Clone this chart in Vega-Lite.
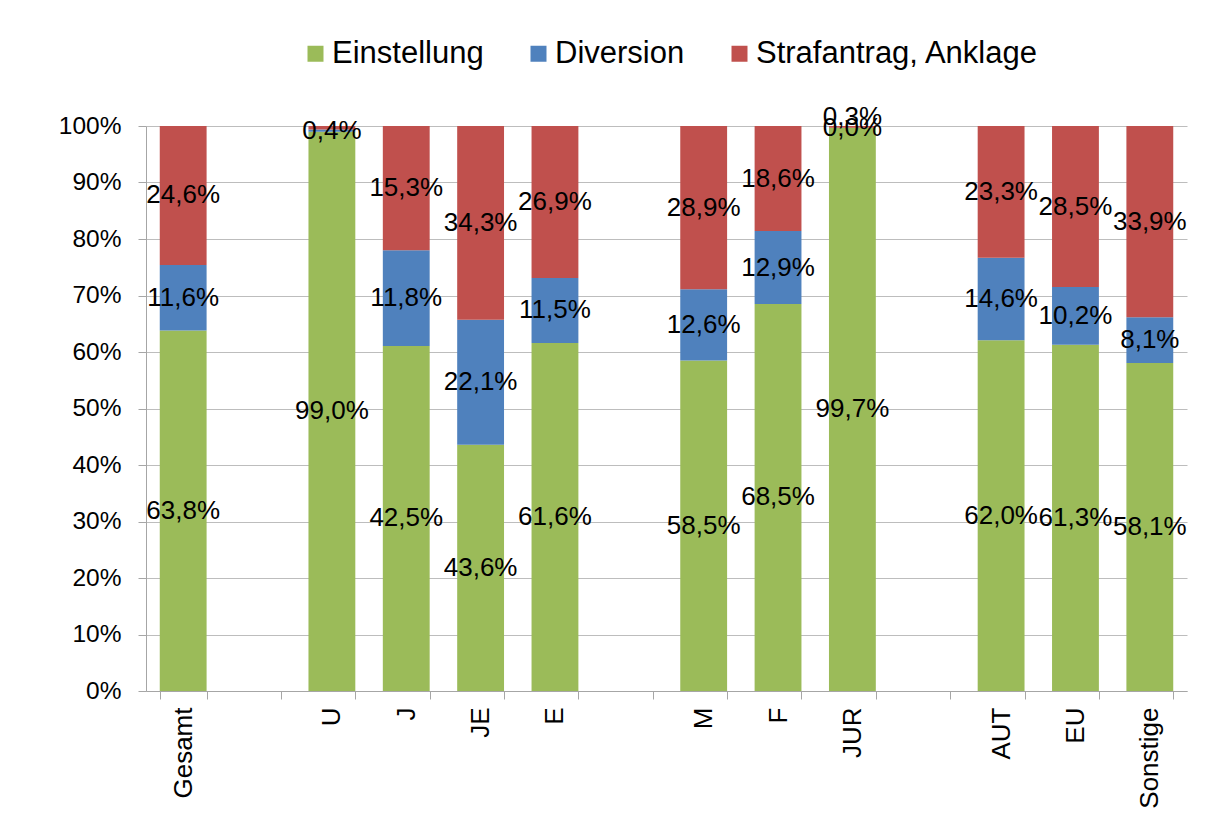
{
  "$schema": "https://vega.github.io/schema/vega-lite/v6.json",
  "width": 1041,
  "height": 565,
  "autosize": {"type": "none"},
  "padding": {"left": 146, "top": 126, "right": 25, "bottom": 144},
  "background": "white",
  "config": {
    "font": "Liberation Sans",
    "view": {"stroke": null},
    "locale": {"number": {"decimal": ",", "thousands": ".", "grouping": [3], "currency": ["", "%"]}}
  },
  "data": {
    "values": [
      {"cat": "Gesamt", "type": "Einstellung", "i": 1, "v": 63.8},
      {"cat": "Gesamt", "type": "Diversion", "i": 2, "v": 11.6},
      {"cat": "Gesamt", "type": "Strafantrag, Anklage", "i": 3, "v": 24.6},
      {"cat": "U", "type": "Einstellung", "i": 1, "v": 99.0},
      {"cat": "U", "type": "Diversion", "i": 2, "v": 0.4},
      {"cat": "U", "type": "Strafantrag, Anklage", "i": 3, "v": 0.6},
      {"cat": "J", "type": "Einstellung", "i": 1, "v": 42.5},
      {"cat": "J", "type": "Diversion", "i": 2, "v": 11.8},
      {"cat": "J", "type": "Strafantrag, Anklage", "i": 3, "v": 15.3},
      {"cat": "JE", "type": "Einstellung", "i": 1, "v": 43.6},
      {"cat": "JE", "type": "Diversion", "i": 2, "v": 22.1},
      {"cat": "JE", "type": "Strafantrag, Anklage", "i": 3, "v": 34.3},
      {"cat": "E", "type": "Einstellung", "i": 1, "v": 61.6},
      {"cat": "E", "type": "Diversion", "i": 2, "v": 11.5},
      {"cat": "E", "type": "Strafantrag, Anklage", "i": 3, "v": 26.9},
      {"cat": "M", "type": "Einstellung", "i": 1, "v": 58.5},
      {"cat": "M", "type": "Diversion", "i": 2, "v": 12.6},
      {"cat": "M", "type": "Strafantrag, Anklage", "i": 3, "v": 28.9},
      {"cat": "F", "type": "Einstellung", "i": 1, "v": 68.5},
      {"cat": "F", "type": "Diversion", "i": 2, "v": 12.9},
      {"cat": "F", "type": "Strafantrag, Anklage", "i": 3, "v": 18.6},
      {"cat": "JUR", "type": "Einstellung", "i": 1, "v": 99.7},
      {"cat": "JUR", "type": "Diversion", "i": 2, "v": 0.0},
      {"cat": "JUR", "type": "Strafantrag, Anklage", "i": 3, "v": 0.3},
      {"cat": "AUT", "type": "Einstellung", "i": 1, "v": 62.0},
      {"cat": "AUT", "type": "Diversion", "i": 2, "v": 14.6},
      {"cat": "AUT", "type": "Strafantrag, Anklage", "i": 3, "v": 23.3},
      {"cat": "EU", "type": "Einstellung", "i": 1, "v": 61.3},
      {"cat": "EU", "type": "Diversion", "i": 2, "v": 10.2},
      {"cat": "EU", "type": "Strafantrag, Anklage", "i": 3, "v": 28.5},
      {"cat": "Sonstige", "type": "Einstellung", "i": 1, "v": 58.1},
      {"cat": "Sonstige", "type": "Diversion", "i": 2, "v": 8.1},
      {"cat": "Sonstige", "type": "Strafantrag, Anklage", "i": 3, "v": 33.9}
    ]
  },
  "encoding": {
    "x": {
      "field": "cat",
      "type": "nominal",
      "title": null,
      "scale": {
        "domain": ["Gesamt", "_1", "U", "J", "JE", "E", "_2", "M", "F", "JUR", "_3", "AUT", "EU", "Sonstige"],
        "paddingInner": 0.37,
        "paddingOuter": 0.185
      },
      "axis": {
        "labelAngle": -90,
        "labelFontSize": 26,
        "labelColor": "black",
        "labelPadding": 8,
        "tickSize": 8,
        "tickBand": "extent",
        "tickColor": "#A6A6A6",
        "domainColor": "#A6A6A6",
        "grid": false,
        "labelExpr": "indexof(datum.label, '_') == 0 ? '' : datum.label"
      }
    }
  },
  "layer": [
    {
      "mark": {"type": "bar"},
      "encoding": {
        "y": {
          "field": "v",
          "type": "quantitative",
          "stack": "normalize",
          "title": null,
          "scale": {"domain": [0, 1], "nice": false},
          "axis": {
            "values": [0, 0.1, 0.2, 0.3, 0.4, 0.5, 0.6, 0.7, 0.8, 0.9, 1],
            "format": ".0%",
            "labelFontSize": 24.5,
            "labelColor": "black",
            "labelPadding": 17,
            "tickSize": 8,
            "tickColor": "#A6A6A6",
            "domainColor": "#A6A6A6",
            "gridColor": "#BDBDBD",
            "grid": true
          }
        },
        "color": {
          "field": "type",
          "type": "nominal",
          "scale": {
            "domain": ["Einstellung", "Diversion", "Strafantrag, Anklage"],
            "range": ["#9BBB59", "#4F81BD", "#C0504D"]
          },
          "legend": {
            "orient": "none",
            "legendX": 154,
            "legendY": -88,
            "direction": "horizontal",
            "title": null,
            "labelFontSize": 31,
            "labelColor": "black",
            "labelLimit": 0,
            "symbolType": "square",
            "symbolSize": 256,
            "symbolStrokeWidth": 0,
            "symbolOpacity": 1,
            "labelOffset": 1,
            "columnPadding": 39,
            "padding": 0
          }
        },
        "order": {"field": "i", "type": "quantitative", "sort": "ascending"}
      }
    },
    {
      "mark": {"type": "text", "fontSize": 26, "color": "black", "baseline": "middle", "align": "center"},
      "encoding": {
        "y": {"field": "v", "type": "quantitative", "stack": "normalize", "bandPosition": 0.5, "title": null},
        "detail": {"field": "type"},
        "order": {"field": "i", "type": "quantitative", "sort": "ascending"},
        "text": {
          "condition": {"test": "datum.type == 'Strafantrag, Anklage' && (datum.cat == 'U' || datum.cat == 'JUR')", "value": ""},
          "field": "v",
          "type": "quantitative",
          "format": "$.1f"
        }
      }
    },
    {
      "mark": {"type": "text", "fontSize": 26, "color": "black", "baseline": "middle", "align": "center", "dy": -10},
      "encoding": {
        "y": {"field": "v", "type": "quantitative", "stack": "normalize", "bandPosition": 0.5, "title": null},
        "detail": {"field": "type"},
        "order": {"field": "i", "type": "quantitative", "sort": "ascending"},
        "text": {
          "condition": {"test": "datum.type == 'Strafantrag, Anklage' && datum.cat == 'JUR'", "field": "v", "type": "quantitative", "format": "$.1f"},
          "value": ""
        }
      }
    }
  ]
}
